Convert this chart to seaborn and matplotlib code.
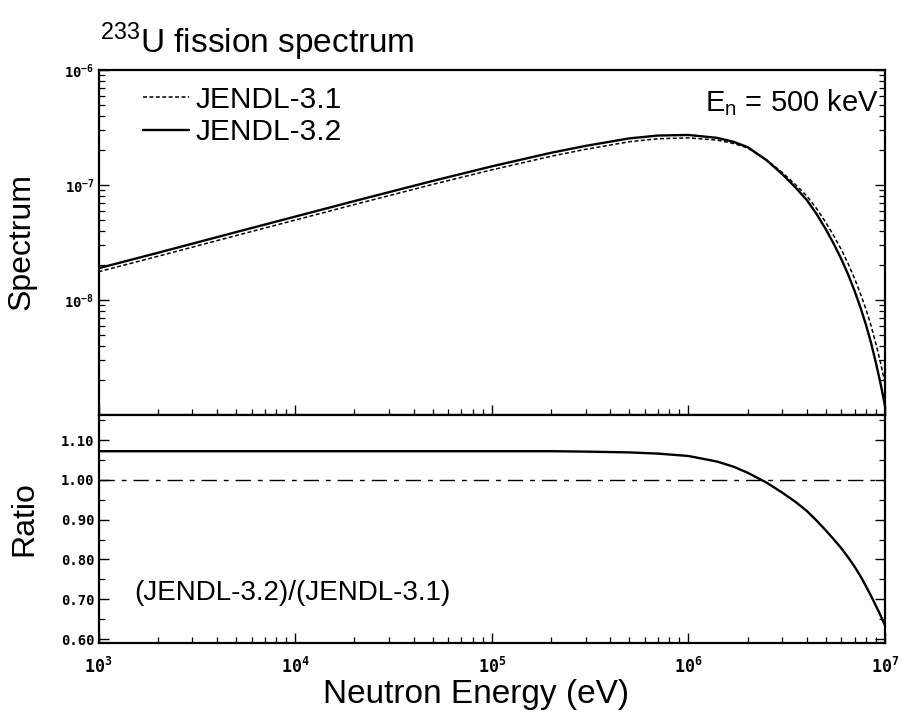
import matplotlib
matplotlib.use("Agg")
import numpy as np
import pandas as pd
import matplotlib.pyplot as plt
import seaborn as sns
from matplotlib.ticker import LogLocator, NullFormatter, MultipleLocator

# ---------------- data ----------------
energy_eV = [1e3, 2e3, 5e3, 1e4, 2e4, 5e4, 1e5, 2e5, 3e5, 5e5, 7e5, 1e6,
             1.4e6, 1.7e6, 2e6, 2.5e6, 3e6, 3.5e6, 4e6, 4.5e6, 5e6, 5.5e6,
             6e6, 6.5e6, 7e6, 7.5e6, 8e6, 8.5e6, 9e6, 9.5e6, 1e7]

jendl32 = [1.888e-8, 2.570e-8, 3.890e-8, 5.309e-8, 7.244e-8, 1.084e-7,
           1.452e-7, 1.905e-7, 2.188e-7, 2.541e-7, 2.692e-7, 2.723e-7,
           2.570e-7, 2.371e-7, 2.138e-7, 1.641e-7, 1.245e-7, 9.55e-8,
           7.413e-8, 5.559e-8, 4.121e-8, 3.055e-8, 2.265e-8, 1.660e-8,
           1.202e-8, 8.61e-9, 6.10e-9, 4.22e-9, 2.818e-9, 1.862e-9, 1.202e-9]

jendl31 = [1.761e-8, 2.397e-8, 3.629e-8, 4.952e-8, 6.757e-8, 1.0112e-7,
           1.354e-7, 1.777e-7, 2.043e-7, 2.377e-7, 2.525e-7, 2.569e-7,
           2.457e-7, 2.295e-7, 2.100e-7, 1.653e-7, 1.286e-7, 1.0106e-7,
           8.04e-8, 6.197e-8, 4.720e-8, 3.594e-8, 2.736e-8, 2.062e-8,
           1.537e-8, 1.136e-8, 8.32e-9, 5.96e-9, 4.126e-9, 2.826e-9, 1.896e-9]

ratio = [1.072, 1.072, 1.072, 1.072, 1.072, 1.072, 1.072, 1.072, 1.071,
         1.069, 1.066, 1.060, 1.046, 1.033, 1.018, 0.993, 0.968, 0.945,
         0.922, 0.897, 0.873, 0.850, 0.828, 0.805, 0.782, 0.758, 0.733,
         0.708, 0.683, 0.659, 0.634]

unity = 1.0

x_ticks = [1e3, 1e4, 1e5, 1e6, 1e7]
x_ticklabels = [r"$10^{3}$", r"$10^{4}$", r"$10^{5}$", r"$10^{6}$", r"$10^{7}$"]
spec_ticks = [1e-9, 1e-8, 1e-7, 1e-6]
spec_ticklabels = ["", r"$10^{-8}$", r"$10^{-7}$", r"$10^{-6}$"]
ratio_ticks = [0.60, 0.70, 0.80, 0.90, 1.00, 1.10]
ratio_ticklabels = ["0.60", "0.70", "0.80", "0.90", "1.00", "1.10"]

df = pd.DataFrame({"E": energy_eV, "J31": jendl31, "J32": jendl32, "ratio": ratio})

# ---------------- style ----------------
sns.set_theme(style="ticks")
plt.rcParams["font.family"] = ["Liberation Sans", "DejaVu Sans"]
plt.rcParams["mathtext.fontset"] = "custom"
plt.rcParams["mathtext.rm"] = "DejaVu Sans Mono:bold"
plt.rcParams["mathtext.it"] = "DejaVu Sans Mono:bold"
plt.rcParams["mathtext.bf"] = "DejaVu Sans Mono:bold"
plt.rcParams["mathtext.sf"] = "Liberation Sans"
for k in ("text.color", "axes.labelcolor", "xtick.color", "ytick.color",
          "axes.edgecolor"):
    plt.rcParams[k] = "black"

fig = plt.figure(figsize=(9.01, 7.16), dpi=100)
W, H = 901.0, 716.0
x0, x1 = 98.5, 885.0
y_top, y_mid, y_bot = 70.0, 415.0, 643.0
ax1 = fig.add_axes([x0 / W, 1 - y_mid / H, (x1 - x0) / W, (y_mid - y_top) / H])
ax2 = fig.add_axes([x0 / W, 1 - y_bot / H, (x1 - x0) / W, (y_bot - y_mid) / H])

# ---------------- upper panel ----------------
sns.lineplot(data=df, x="E", y="J31", ax=ax1, color="black", linewidth=1.1,
             linestyle=(0, (2.6, 1.6)), label="JENDL-3.1", sort=False)
sns.lineplot(data=df, x="E", y="J32", ax=ax1, color="black", linewidth=1.7,
             label="JENDL-3.2", sort=False)
ax1.set_xscale("log")
ax1.set_yscale("log")
ax1.set_xlim(1e3, 1e7)
ax1.set_ylim(1e-9, 1e-6)
ax1.set_xlabel("")
ax1.set_ylabel("")
ax1.set_yticks(spec_ticks)
ax1.set_yticklabels(spec_ticklabels, fontsize=10)
ax1.yaxis.set_minor_locator(LogLocator(base=10, subs=np.arange(2, 10)))
ax1.yaxis.set_minor_formatter(NullFormatter())
ax1.set_xticks(x_ticks)
ax1.set_xticklabels([])
ax1.xaxis.set_minor_locator(LogLocator(base=10, subs=np.arange(2, 10)))
ax1.xaxis.set_minor_formatter(NullFormatter())

leg = ax1.legend(loc="upper left", bbox_to_anchor=(0.056, 0.955), frameon=False,
                 fontsize=21.5, handlelength=1.55, handletextpad=0.24,
                 labelspacing=0.15, borderpad=0, borderaxespad=0)

ax1.text(0.9925, 0.95, r"E$_{\mathsf{n}}$ = 500 keV", transform=ax1.transAxes,
         ha="right", va="top", fontsize=21)

# ---------------- lower panel ----------------
sns.lineplot(data=df, x="E", y="ratio", ax=ax2, color="black", linewidth=1.7, sort=False)
ax2.axhline(unity, color="black", linewidth=1.0, linestyle=(0, (11, 5, 3.5, 5)))
ax2.set_xscale("log")
ax2.set_xlim(1e3, 1e7)
ax2.set_ylim(0.59, 1.163)
ax2.set_xlabel("")
ax2.set_ylabel("")
ax2.set_yticks(ratio_ticks)
ax2.set_yticklabels(ratio_ticklabels, fontsize=10, fontfamily="DejaVu Sans Mono",
                    fontweight="bold")
ax2.yaxis.set_minor_locator(MultipleLocator(0.05))
ax2.set_xticks(x_ticks)
ax2.set_xticklabels(x_ticklabels, fontsize=12)
ax2.xaxis.set_minor_locator(LogLocator(base=10, subs=np.arange(2, 10)))
ax2.xaxis.set_minor_formatter(NullFormatter())
ax2.text(0.045, 0.22, "(JENDL-3.2)/(JENDL-3.1)", transform=ax2.transAxes,
         ha="left", va="center", fontsize=20)

for ax in (ax1, ax2):
    for s in ax.spines.values():
        s.set_visible(True)
        s.set_linewidth(1.6)
        s.set_color("black")
    ax.tick_params(which="both", direction="in", left=True, right=True,
                   bottom=True, top=False, color="black", labelcolor="black")
    ax.tick_params(which="major", length=7.5, width=1.0, pad=3)
    ax.tick_params(which="minor", length=4, width=0.9)
ax2.tick_params(axis="x", which="major", pad=9)

# ---------------- labels ----------------
fig.text(100 / W, 1 - 53 / H, r"$^{\mathsf{233}}$U fission spectrum",
         ha="left", va="baseline", fontsize=24)
fig.text(22 / W, 1 - 242 / H, "Spectrum", rotation=90, ha="center", va="center",
         fontsize=23)
fig.text(24 / W, 1 - 519 / H, "Ratio", rotation=90, ha="center", va="center",
         fontsize=23)
fig.text(476 / W, 1 - 703 / H, "Neutron Energy (eV)", ha="center", va="baseline",
         fontsize=24)

fig.savefig("out.png", dpi=100, facecolor="white")
